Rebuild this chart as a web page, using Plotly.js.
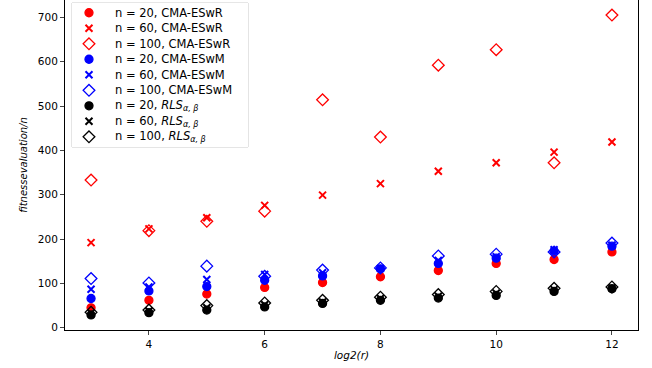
<!DOCTYPE html>
<html>
<head>
<meta charset="utf-8">
<script src="https://cdn.plot.ly/plotly-3.0.1.min.js"></script>
<style>html,body{margin:0;padding:0;background:#fff;}#chart{width:652px;height:368px;}</style>
</head>
<body>
<div id="chart"></div>
<script>
const xs = [3, 4, 5, 6, 7, 8, 9, 10, 11, 12];

const cmaR20  = [45, 62, 76, 91, 102, 115, 129, 145, 154, 171];
const cmaR60  = [192, 223, 248, 276, 299, 325, 353, 372, 396, 419];
const cmaR100 = [333, 219, 240, 263, 514, 430, 592, 627, 372, 705];

const cmaM20  = [66, 83, 93, 107, 117, 133, 145, 157, 173, 184];
const cmaM60  = [87, 92, 109, 120, 124, 134, 152, 160, 176, 186];
const cmaM100 = [111, 101, 139, 116, 130, 135, 162, 166, 171, 191];

const rls20  = [29, 34, 40, 47, 55, 62, 67, 73, 82, 88];
const rls60  = [33, 38, 45, 52, 58, 66, 71, 78, 86, 90];
const rls100 = [35, 40, 50, 56, 62, 69, 75, 82, 89, 92];

const names = [
  'n = 20, CMA-ESwR', 'n = 60, CMA-ESwR', 'n = 100, CMA-ESwR',
  'n = 20, CMA-ESwM', 'n = 60, CMA-ESwM', 'n = 100, CMA-ESwM',
  'n = 20, <i>RLS</i><sub><i>α, β</i></sub>', 'n = 60, <i>RLS</i><sub><i>α, β</i></sub>', 'n = 100, <i>RLS</i><sub><i>α, β</i></sub>'
];
const series = [cmaR20, cmaR60, cmaR100, cmaM20, cmaM60, cmaM100, rls20, rls60, rls100];
const colors = ['#ff0000', '#ff0000', '#ff0000', '#0000ff', '#0000ff', '#0000ff', '#000000', '#000000', '#000000'];
const symbols = ['circle', 'x-thin-open', 'diamond-open'];
const sizes = [8, 7, 9];

function markerFor(i) {
  return {
    symbol: symbols[i % 3], size: sizes[i % 3], color: colors[i],
    line: {color: colors[i], width: i % 3 === 1 ? 2 : 1.3}
  };
}

const traces = series.map((ys, i) => ({
  x: xs, y: ys, name: names[i], type: 'scatter', mode: 'markers',
  marker: markerFor(i), showlegend: false, xaxis: 'x', yaxis: 'y'
}));

// Legend drawn as a small inset (matplotlib-style compact rows)
const keyX = 17, textX = 41;
series.forEach((ys, i) => {
  traces.push({
    x: [keyX], y: [i], type: 'scatter', mode: 'markers',
    marker: markerFor(i), showlegend: false, xaxis: 'x2', yaxis: 'y2', hoverinfo: 'skip'
  });
});

const annotations = names.map((t, i) => ({
  xref: 'x2', yref: 'y2', x: textX, y: i, text: t, showarrow: false,
  xanchor: 'left', yanchor: 'middle', font: {family: 'DejaVu Sans', size: 11.5, color: '#000'}
}));

const legX = [0.0122, 0.3194], legY = [0.5545, 0.9909];

const layout = {
  width: 652, height: 368,
  margin: {l: 65, r: 14, t: 0, b: 38},
  paper_bgcolor: '#fff', plot_bgcolor: '#fff',
  font: {family: 'DejaVu Sans', size: 10.5, color: '#000'},
  showlegend: false,
  xaxis: {
    range: [2.55, 12.45], tickvals: [4, 6, 8, 10, 12], ticks: 'outside', ticklen: 4,
    showline: true, linecolor: '#000', linewidth: 1, mirror: true, showgrid: false, zeroline: false,
    title: {text: '<i>log2(r)</i>', font: {size: 10.5}, standoff: 3}
  },
  yaxis: {
    range: [-5, 739], tickvals: [0, 100, 200, 300, 400, 500, 600, 700], ticks: 'outside', ticklen: 4,
    showline: true, linecolor: '#000', linewidth: 1, mirror: true, showgrid: false, zeroline: false,
    title: {text: '<i>fitnessevaluation/n</i>', font: {size: 10}, standoff: 8}
  },
  xaxis2: {domain: legX, anchor: 'y2', range: [0, 176], visible: false, fixedrange: true},
  yaxis2: {domain: legY, anchor: 'x2', range: [8.66, -0.63], visible: false, fixedrange: true},
  shapes: [{
    type: 'rect', xref: 'paper', yref: 'paper', x0: legX[0], x1: legX[1], y0: legY[0], y1: legY[1],
    fillcolor: '#ffffff', line: {color: '#cccccc', width: 1}, layer: 'below'
  }],
  annotations: annotations
};

Plotly.newPlot('chart', traces, layout, {displayModeBar: false, staticPlot: true});
</script>
</body>
</html>
